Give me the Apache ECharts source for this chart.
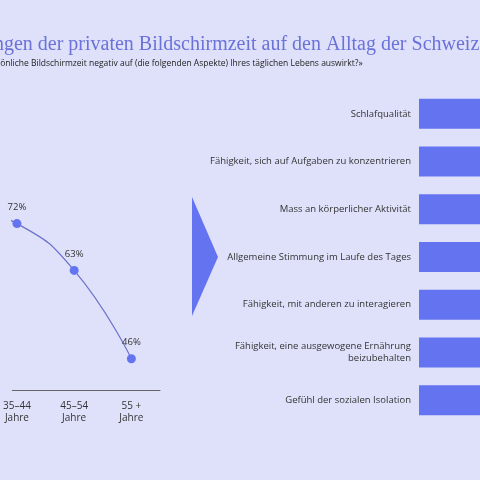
<!DOCTYPE html>
<html><head><meta charset="utf-8">
<script src="https://cdn.jsdelivr.net/npm/echarts@6/dist/echarts.min.js"></script>
<style>html,body{margin:0;background:#dfe1fb}#c{width:480px;height:480px}</style>
</head><body><div id="c"></div>
<script>
var altersgruppen = ['16–24\nJahre', '25–34\nJahre', '35–44\nJahre', '45–54\nJahre', '55 +\nJahre'];
var anteilAlter = [77, 75, 72, 63, 46];
var durchschnitt = 63;
var aspekte = ['Schlafqualität', 'Fähigkeit, sich auf Aufgaben zu konzentrieren', 'Mass an körperlicher Aktivität',
    'Allgemeine Stimmung im Laufe des Tages', 'Fähigkeit, mit anderen zu interagieren',
    'Fähigkeit, eine ausgewogene Ernährung\nbeizubehalten', 'Gefühl der sozialen Isolation'];
var anteilAspekte = [56, 50, 45, 42, 38, 33, 28];

var chart = echarts.init(document.getElementById('c'));
var txt = { fontFamily: 'Open Sans', color: '#333' };
// Altersgruppen als Index-Positionen, damit der Ausschnitt links abgeschnitten wirkt
var linienDaten = anteilAlter.map(function (v, i) { return [i, v]; });
chart.setOption({
    backgroundColor: '#dfe1fb',
    animation: false,
    graphic: [
        { type: 'text', left: -85, top: 35, style: { text: 'Auswirkungen der privaten Bildschirmzeit auf den Alltag der Schweizer Bevölkerung', font: '20px "Liberation Serif"', fill: '#6a72d8' } },
        { type: 'text', left: -165, top: 59, style: { text: '«Inwiefern denken Sie, dass sich Ihre persönliche Bildschirmzeit negativ auf (die folgenden Aspekte) Ihres täglichen Lebens auswirkt?»', font: '8.5px "Open Sans"', fill: '#222' } },
        { type: 'polygon', shape: { points: [[192, 197], [218, 257], [192, 316]] }, style: { fill: '#6474f0' } }
    ],
    grid: [
        { left: 0, width: 160, top: 182, bottom: 90 },
        { left: 419, right: 0, top: 90, height: 334 }
    ],
    xAxis: [
        { gridIndex: 0, type: 'value', min: 2 - 5 / 62, max: 2 - 5 / 62 + 160 / 62,
          splitLine: { show: false },
          axisLine: { lineStyle: { color: '#666' } },
          axisTick: { show: false },
          axisLabel: Object.assign({ fontSize: 10, lineHeight: 12, margin: 10, customValues: [2, 3, 4],
              formatter: function (v) { return altersgruppen[Math.round(v)]; } }, txt) },
        { gridIndex: 1, type: 'value', min: 0, max: 25, show: false }
    ],
    yAxis: [
        { gridIndex: 0, type: 'value', min: 40, max: 80, show: false },
        { gridIndex: 1, type: 'category', data: aspekte, inverse: true,
          axisLine: { show: false }, axisTick: { show: false },
          axisLabel: Object.assign({ fontSize: 9.5, lineHeight: 12, margin: 8, align: 'right' }, txt) }
    ],
    series: [
        { type: 'line', xAxisIndex: 0, yAxisIndex: 0, data: linienDaten, smooth: true,
          symbol: 'circle', symbolSize: 9,
          lineStyle: { color: '#6a72c8', width: 1.2 }, itemStyle: { color: '#6474f0' },
          label: { show: true, position: 'top', distance: 7, fontSize: 9.5, fontFamily: 'Open Sans', color: '#333',
              formatter: function (p) { return p.value[1] + '%'; } },
          markLine: { silent: true, symbol: 'none', label: { show: false },
              lineStyle: { color: '#5a66e6', type: [6, 4], width: 1.5 },
              data: [[{ coord: [1, durchschnitt] }, { coord: [4.65, durchschnitt] }]] } },
        { type: 'bar', xAxisIndex: 1, yAxisIndex: 1, data: anteilAspekte, barWidth: 30, clip: true,
          itemStyle: { color: '#6474f0' } }
    ]
});
</script></body></html>
